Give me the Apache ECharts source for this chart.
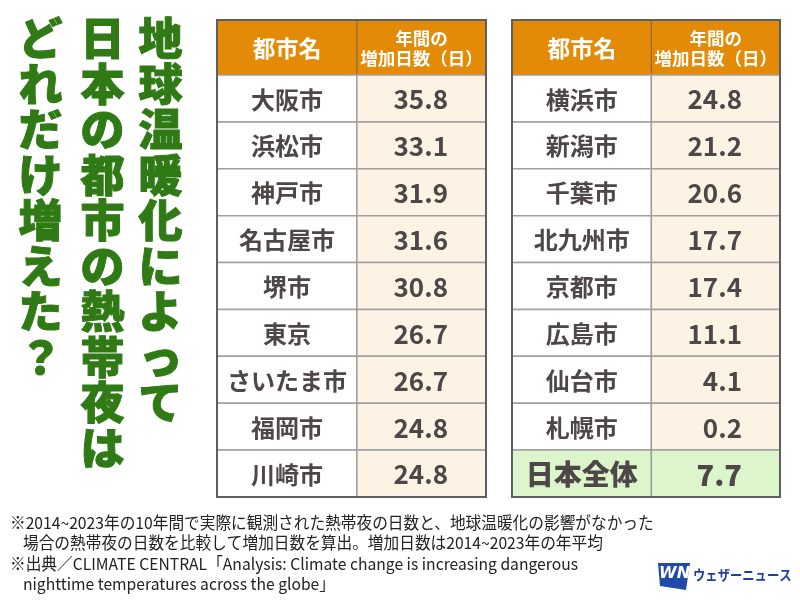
<!DOCTYPE html>
<html>
<head>
<meta charset="utf-8">
<script src="https://cdn.jsdelivr.net/npm/echarts@6/dist/echarts.min.js"></script>
<style>
  html, body { margin: 0; padding: 0; background: #fff; }
  #chart { width: 800px; height: 600px; }
</style>
</head>
<body>
<div id="chart"></div>
<script>
// 表のデータ（左右2表）
var headerLabels = ['都市名', '年間の\n増加日数（日）'];
var citiesLeft = ['大阪市', '浜松市', '神戸市', '名古屋市', '堺市', '東京', 'さいたま市', '福岡市', '川崎市'];
var daysLeft = [35.8, 33.1, 31.9, 31.6, 30.8, 26.7, 26.7, 24.8, 24.8];
var citiesRight = ['横浜市', '新潟市', '千葉市', '北九州市', '京都市', '広島市', '仙台市', '札幌市', '日本全体'];
var daysRight = [24.8, 21.2, 20.6, 17.7, 17.4, 11.1, 4.1, 0.2, 7.7];

var titleColumns = ['地球温暖化によって', '日本の都市の熱帯夜は', 'どれだけ増えた？'];
var noteLines = [
  '※2014~2023年の10年間で実際に観測された熱帯夜の日数と、地球温暖化の影響がなかった',
  '場合の熱帯夜の日数を比較して増加日数を算出。増加日数は2014~2023年の年平均',
  '※出典／CLIMATE CENTRAL「Analysis: Climate change is increasing dangerous',
  'nighttime temperatures across the globe」'
];

var FONT = '"Noto Sans CJK JP", "Noto Sans", sans-serif';
var TEXT_COLOR = '#4d4747';
var ORANGE = '#e38a06';
var CREAM = '#fcf3e5';
var GREEN_BG = '#dcf5cb';
var LINE = '#a0a0a0';
var BORDER = '#5e5e5e';
var CITY_COL = 0.52;   // 都市名列の幅（割合）
var HEADER_H = 55;

var chart = echarts.init(document.getElementById('chart'), null, { renderer: 'canvas' });

/**
 * 表1つ分のcustomシリーズ
 */
function buildTableSeries(idx, cities, days, lastIsTotal) {
  return {
    type: 'custom',
    xAxisIndex: idx,
    yAxisIndex: idx,
    silent: true,
    data: cities.map(function (c, i) { return [0, i, days[i]]; }),
    encode: { x: 0, y: 1 },
    renderItem: function (params, api) {
      var cs = params.coordSys;
      var i = params.dataIndex;
      var mid = api.coord([0, api.value(1)])[1];
      var h = api.size([0, 1])[1];
      var top = mid - h / 2;
      var splitX = cs.x + cs.width * CITY_COL;
      var right = cs.x + cs.width;
      var total = lastIsTotal && i === cities.length - 1;
      var children = [];

      if (i === 0) {
        // ヘッダー
        children.push({
          type: 'rect',
          shape: { x: cs.x, y: cs.y - HEADER_H, width: cs.width, height: HEADER_H },
          style: { fill: ORANGE }
        });
        children.push({
          type: 'line',
          shape: { x1: splitX, y1: cs.y - HEADER_H, x2: splitX, y2: cs.y },
          style: { stroke: '#8a6a40', lineWidth: 1.2 }
        });
        children.push({
          type: 'text',
          style: {
            text: headerLabels[0], x: (cs.x + splitX) / 2, y: cs.y - HEADER_H / 2 + 1,
            align: 'center', verticalAlign: 'middle',
            font: 'bold 23px ' + FONT, fill: '#fff'
          }
        });
        children.push({
          type: 'text',
          style: {
            text: headerLabels[1], x: (splitX + right) / 2, y: cs.y - HEADER_H / 2 + 1,
            align: 'center', verticalAlign: 'middle', lineHeight: 20,
            font: 'bold 17.5px ' + FONT, fill: '#fff'
          }
        });
      }

      // セル背景
      children.push({
        type: 'rect',
        shape: { x: cs.x, y: top, width: splitX - cs.x, height: h },
        style: { fill: total ? GREEN_BG : '#fff', stroke: LINE, lineWidth: 1.5 }
      });
      children.push({
        type: 'rect',
        shape: { x: splitX, y: top, width: right - splitX, height: h },
        style: { fill: total ? GREEN_BG : CREAM, stroke: LINE, lineWidth: 1.5 }
      });

      children.push({
        type: 'text',
        style: {
          text: cities[i], x: (cs.x + splitX) / 2, y: mid + 1,
          align: 'center', verticalAlign: 'middle',
          font: (total ? '900 28px ' : 'bold 24px ') + FONT, fill: TEXT_COLOR
        }
      });
      children.push({
        type: 'text',
        style: {
          text: api.value(2).toFixed(1), x: right - 38, y: mid + 1,
          align: 'right', verticalAlign: 'middle',
          font: (total ? '900 29px ' : 'bold 26px ') + FONT, fill: TEXT_COLOR
        }
      });

      if (i === cities.length - 1) {
        // 外枠
        children.push({
          type: 'rect',
          shape: { x: cs.x, y: cs.y - HEADER_H, width: cs.width, height: cs.height + HEADER_H },
          style: { fill: 'none', stroke: BORDER, lineWidth: 2 }
        });
      }
      return { type: 'group', children: children };
    }
  };
}

function hiddenCategoryAxis(idx, data) {
  return { type: 'category', gridIndex: idx, data: data, inverse: true, show: false };
}
function hiddenValueAxis(idx) {
  return { type: 'value', gridIndex: idx, min: 0, max: 1, show: false };
}

// タイトル（縦書き）
var graphics = titleColumns.map(function (col, k) {
  var xs = [161, 103, 41];
  return {
    type: 'text',
    left: xs[k] - 23,
    top: 16,
    style: {
      text: col.split('').join('\n'),
      font: '900 44px ' + FONT,
      lineHeight: 45.5,
      fill: '#2f7a15',
      stroke: '#2f7a15',
      lineWidth: 1,
      align: 'center'
    }
  };
});

// 注記（やや縦長の書体に見せるため横方向を縮める）
var noteY = [514, 534, 555, 575];
var noteX = [10, 23, 10, 23];
noteLines.forEach(function (t, k) {
  graphics.push({
    type: 'text',
    x: noteX[k],
    y: noteY[k],
    scaleX: 0.95,
    style: { text: t, font: '16.5px ' + FONT, fill: '#222' }
  });
});

// ロゴ
graphics.push({
  type: 'polygon',
  shape: { points: [[658, 563], [690, 563], [686, 590], [660, 586]] },
  style: { fill: '#1f4aa8' }
});
graphics.push({
  type: 'text',
  left: 659,
  top: 566,
  style: { text: 'WN', font: 'italic bold 16px "DejaVu Sans", sans-serif', fill: '#fff' }
});
graphics.push({
  type: 'text',
  x: 693,
  y: 568,
  scaleX: 0.88,
  style: { text: 'ウェザーニュース', font: 'bold 14px ' + FONT, fill: '#1f3f9c' }
});

var option = {
  animation: false,
  backgroundColor: '#fff',
  grid: [
    { left: 217, top: 75, width: 269, height: 422 },
    { left: 512, top: 75, width: 268, height: 422 }
  ],
  xAxis: [hiddenValueAxis(0), hiddenValueAxis(1)],
  yAxis: [hiddenCategoryAxis(0, citiesLeft), hiddenCategoryAxis(1, citiesRight)],
  series: [
    buildTableSeries(0, citiesLeft, daysLeft, false),
    buildTableSeries(1, citiesRight, daysRight, true)
  ],
  graphic: graphics
};

chart.setOption(option);
</script>
</body>
</html>
